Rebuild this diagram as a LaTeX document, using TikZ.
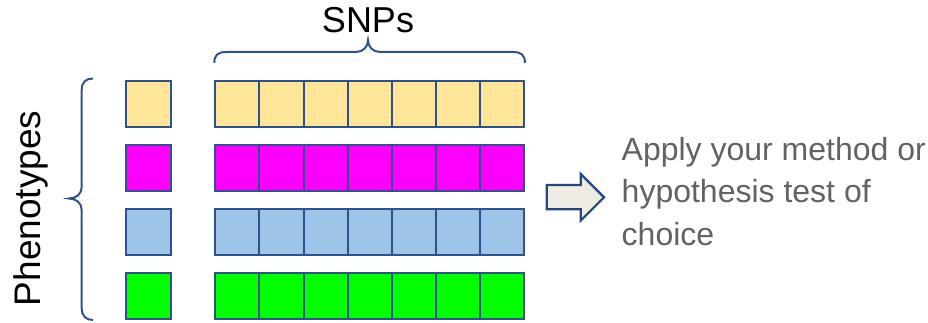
\documentclass[tikz,border=0pt]{standalone}
\usepackage{fontspec}
\setmainfont{Liberation Sans}
\definecolor{cellline}{HTML}{2F528F}
\definecolor{bracecol}{HTML}{2F528F}
\definecolor{cyellow}{HTML}{FFE699}
\definecolor{cmagenta}{HTML}{FF00FF}
\definecolor{cblue}{HTML}{9DC3E6}
\definecolor{cgreen}{HTML}{00FF00}
\definecolor{arrowfill}{HTML}{EEECE1}
\definecolor{arrowline}{HTML}{23477E}
\definecolor{notegray}{HTML}{626262}
\tikzset{
  cell/.style={draw=cellline, line width=2pt, rectangle, inner sep=0pt,
    minimum width=44.2pt, minimum height=45.8pt},
  bracepath/.style={draw=bracecol, line width=2pt},
  bigtext/.style={font=\fontsize{36}{43}\selectfont, inner sep=0pt},
}
\begin{document}
\begin{tikzpicture}[x=1pt, y=-1pt]
\useasboundingbox (0,0) rectangle (928,323);

% one phenotype square and a row of seven SNP cells per row
\foreach \c [count=\r from 0] in {cyellow,cmagenta,cblue,cgreen} {
  \pgfmathsetmacro{\yy}{104+64.1*\r}
  \node[cell, fill=\c] (p\r) at (148.4,\yy) {};
  \foreach \j in {0,...,6} {
    \pgfmathsetmacro{\xx}{237.4+44.1*\j}
    \node[cell, fill=\c] (s\r-\j) at (\xx,\yy) {};
  }
}

% brace over the SNP columns
\draw[bracepath] (214.3,63) .. controls (214.3,55) and (218,52) .. (226,52)
  -- (356,52) .. controls (363,52) and (368,47) .. (368,40)
  .. controls (368,47) and (373,52) .. (380,52)
  -- (513,52) .. controls (521,52) and (525,55) .. (525,63);
\node[bigtext, anchor=base] (snps) at (368,33) {SNPs};

% brace beside the phenotype squares
\draw[bracepath] (93,78.5) .. controls (86,78.5) and (81.7,82) .. (81.7,90)
  -- (81.7,187) .. controls (81.7,194) and (76,198.5) .. (69,198.5)
  .. controls (76,198.5) and (81.7,203) .. (81.7,210)
  -- (81.7,308) .. controls (81.7,316) and (86,320) .. (93,320);
\node[font=\fontsize{37}{44}\selectfont, inner sep=0pt, anchor=base, rotate=90]
  (pheno) at (40,208.4) {Phenotypes};

% block arrow and note
\draw[draw=arrowline, fill=arrowfill, line width=2.2pt, line join=miter]
  (546.7,185) -- (580.7,185) -- (580.7,174) -- (604,197.3)
  -- (580.7,220.6) -- (580.7,209.3) -- (546.7,209.3) -- cycle;
\node[anchor=base west, align=left, inner sep=0pt, text=notegray,
  font=\fontsize{32}{42.5}\selectfont] (note) at (621.5,245)
  {Apply your method or\\hypothesis test of\\choice};
\end{tikzpicture}
\end{document}
